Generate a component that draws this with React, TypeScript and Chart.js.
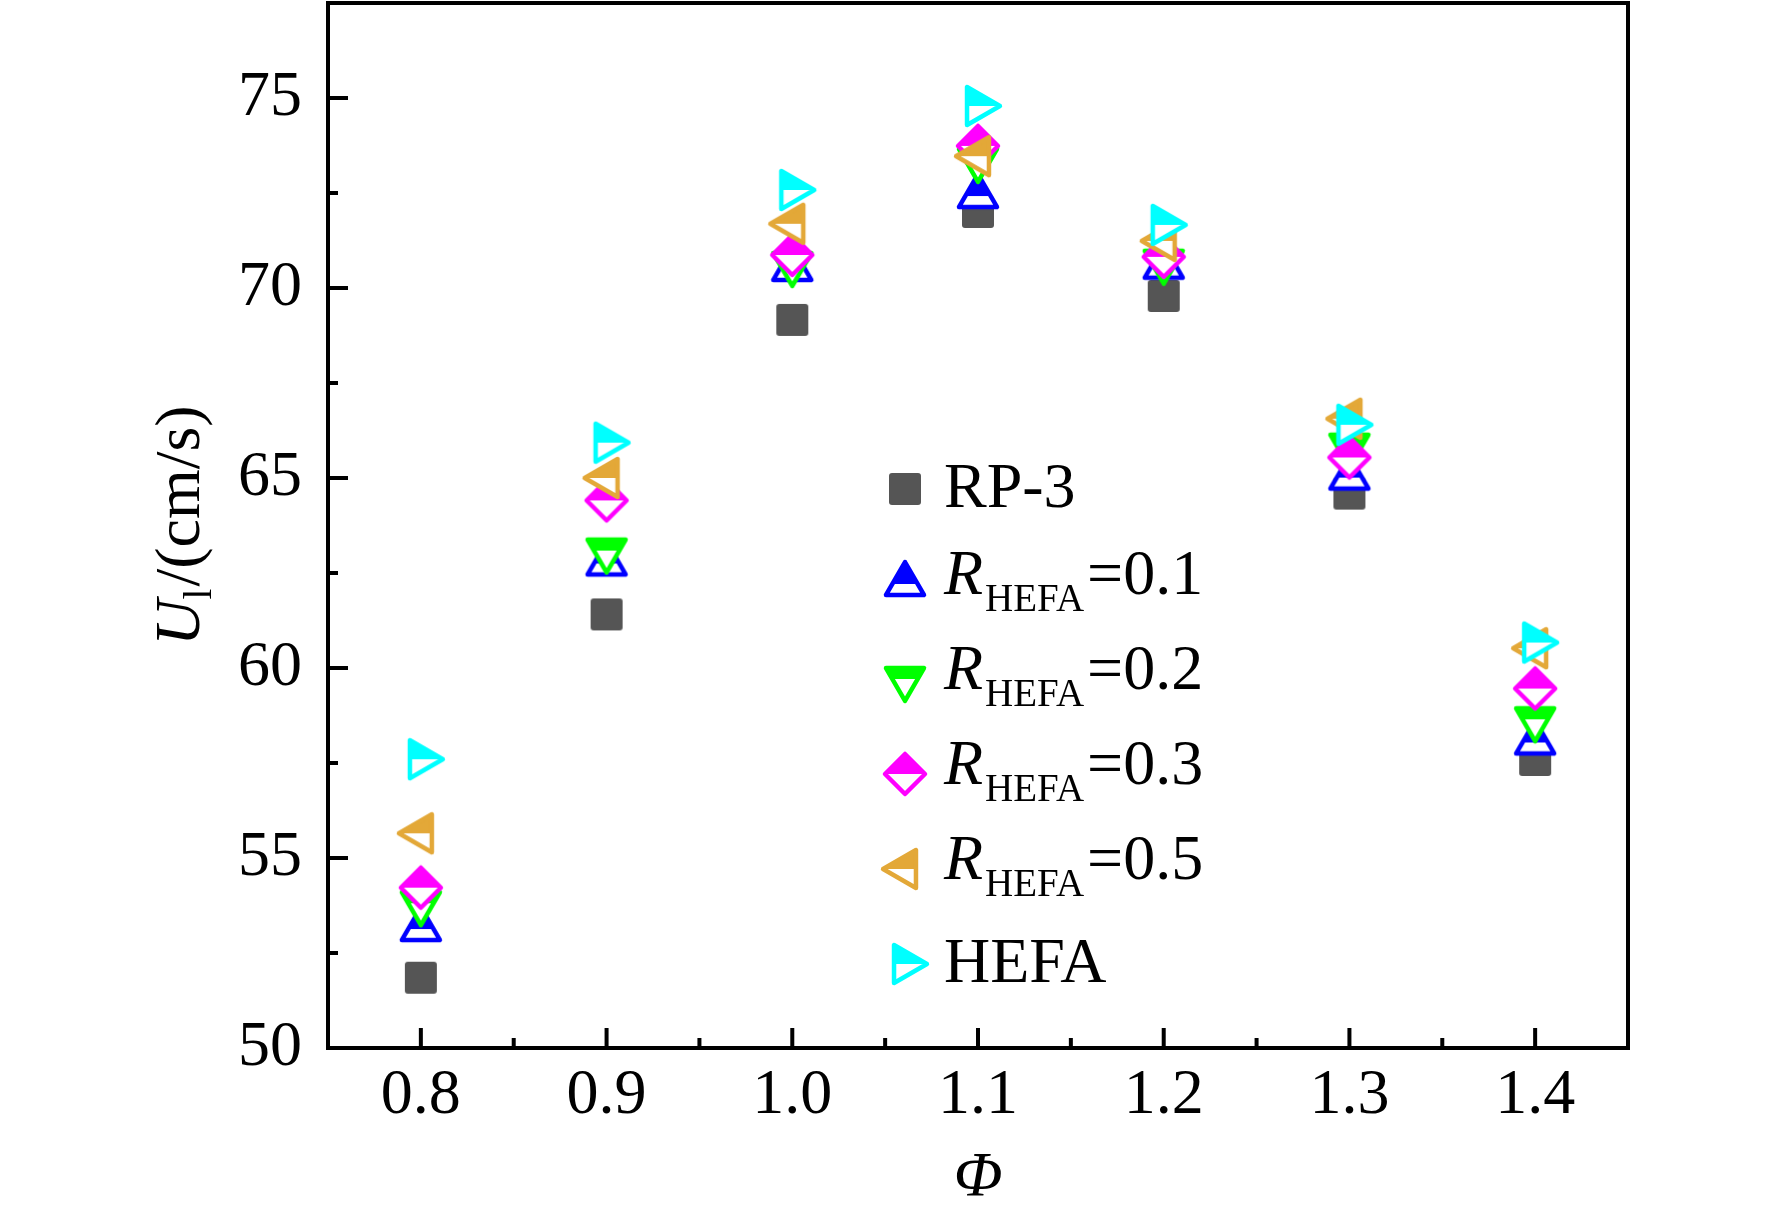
import { useEffect, useRef } from "react"
import { Chart, registerables } from "chart.js"

Chart.register(...registerables)

// equivalence ratio
const phi = [0.8, 0.9, 1.0, 1.1, 1.2, 1.3, 1.4]

// laminar burning velocity, cm/s
const rp3 = [51.85, 61.41, 69.16, 72.0, 69.79, 64.59, 57.58]
const r01 = [53.13, 62.75, 70.5, 72.42, 70.56, 65.01, 58.04]
const r02 = [53.81, 63.09, 70.63, 73.37, 70.69, 65.85, 58.65]
const r03 = [54.22, 64.41, 70.87, 73.74, 70.82, 65.54, 59.46]
const r05 = [55.65, 65.0, 71.69, 73.47, 71.24, 66.56, 60.52]
const hefa = [57.6, 65.93, 72.58, 74.79, 71.66, 66.4, 60.67]

const xMajor = [0.8, 0.9, 1.0, 1.1, 1.2, 1.3, 1.4]
const xMinor = [0.85, 0.95, 1.05, 1.15, 1.25, 1.35]
const yMajor = [50, 55, 60, 65, 70, 75]
const yMinor = [52.5, 57.5, 62.5, 67.5, 72.5]

type Shape = "square" | "up" | "down" | "diamond" | "left" | "right"

type Series = {
  name: string
  ratio?: string // shown as R_HEFA=ratio in the legend
  values: number[]
  color: string
  shape: Shape
}

const series: Series[] = [
  { name: "RP-3", values: rp3, color: "#555555", shape: "square" },
  { name: "R0.1", ratio: "0.1", values: r01, color: "#0000ff", shape: "up" },
  { name: "R0.2", ratio: "0.2", values: r02, color: "#00ff00", shape: "down" },
  { name: "R0.3", ratio: "0.3", values: r03, color: "#ff00ff", shape: "diamond" },
  { name: "R0.5", ratio: "0.5", values: r05, color: "#e3a838", shape: "left" },
  { name: "HEFA", values: hefa, color: "#00ffff", shape: "right" },
]

const SERIF = "'Liberation Serif', 'Times New Roman', serif"

// Origin-style half filled symbol: the part above the centre is solid,
// the rest white. The canvas is centred on the symbol's centroid.
function makeMarker(shape: Shape, color: string): HTMLCanvasElement {
  const cv = document.createElement("canvas")
  cv.width = 64
  cv.height = 64
  const ctx = cv.getContext("2d")!
  const c = 32
  if (shape === "square") {
    ctx.fillStyle = color
    ctx.beginPath()
    ctx.roundRect(c - 16, c - 16, 32, 32, 3)
    ctx.fill()
    return cv
  }
  const s = 38
  const h = (s * Math.sqrt(3)) / 2
  let pts: [number, number][] = []
  if (shape === "up") pts = [[c, c - (2 * h) / 3], [c + s / 2, c + h / 3], [c - s / 2, c + h / 3]]
  if (shape === "down") pts = [[c, c + (2 * h) / 3], [c + s / 2, c - h / 3], [c - s / 2, c - h / 3]]
  if (shape === "left") pts = [[c - (2 * h) / 3, c], [c + h / 3, c - s / 2], [c + h / 3, c + s / 2]]
  if (shape === "right") pts = [[c + (2 * h) / 3, c], [c - h / 3, c - s / 2], [c - h / 3, c + s / 2]]
  if (shape === "diamond") pts = [[c, c - 20], [c + 20, c], [c, c + 20], [c - 20, c]]
  const path = () => {
    ctx.beginPath()
    pts.forEach(([x, y], i) => (i ? ctx.lineTo(x, y) : ctx.moveTo(x, y)))
    ctx.closePath()
  }
  path()
  ctx.fillStyle = "#ffffff"
  ctx.fill()
  ctx.save()
  path()
  ctx.clip()
  ctx.fillStyle = color
  ctx.fillRect(0, 0, 64, c)
  ctx.restore()
  path()
  ctx.lineWidth = 4.5
  ctx.lineJoin = "round"
  ctx.strokeStyle = color
  ctx.stroke()
  return cv
}

export default function App() {
  const canvasRef = useRef<HTMLCanvasElement | null>(null)
  const chartRef = useRef<Chart | null>(null)

  useEffect(() => {
    document.body.style.margin = "0"
    if (!canvasRef.current) return
    const ctx = canvasRef.current.getContext("2d")
    if (!ctx) return
    const markers = series.map((s) => makeMarker(s.shape, s.color))

    // box, inward ticks, axis titles and the legend
    const decorations = {
      id: "decorations",
      beforeDatasetsDraw(chart: Chart) {
        const { ctx, chartArea } = chart
        const { left, right, top, bottom } = chartArea
        const x = chart.scales.x
        const y = chart.scales.y
        ctx.save()
        ctx.strokeStyle = "#000"
        ctx.lineWidth = 4
        ctx.strokeRect(left, top, right - left, bottom - top)
        ctx.beginPath()
        xMajor.forEach((v) => {
          const px = x.getPixelForValue(v)
          ctx.moveTo(px, bottom)
          ctx.lineTo(px, bottom - 20)
        })
        xMinor.forEach((v) => {
          const px = x.getPixelForValue(v)
          ctx.moveTo(px, bottom)
          ctx.lineTo(px, bottom - 10)
        })
        yMajor.forEach((v) => {
          const py = y.getPixelForValue(v)
          ctx.moveTo(left, py)
          ctx.lineTo(left + 20, py)
        })
        yMinor.forEach((v) => {
          const py = y.getPixelForValue(v)
          ctx.moveTo(left, py)
          ctx.lineTo(left + 10, py)
        })
        ctx.stroke()
        ctx.restore()
      },
      afterDraw(chart: Chart) {
        const { ctx, chartArea } = chart
        const { left, right, top, bottom } = chartArea
        ctx.save()
        ctx.fillStyle = "#000"
        ctx.textBaseline = "alphabetic"
        ctx.textAlign = "left"

        // y title: U_l/(cm/s), rotated
        const big = `64px ${SERIF}`
        const bigIt = `italic 64px ${SERIF}`
        const small = `39px ${SERIF}`
        ctx.save()
        ctx.translate(199, (top + bottom) / 2)
        ctx.rotate(-Math.PI / 2)
        ctx.font = bigIt
        const wU = ctx.measureText("U").width
        ctx.font = small
        const wl = ctx.measureText("l").width
        ctx.font = big
        const wr = ctx.measureText("/(cm/s)").width
        let cx = -(wU + wl + 2 + wr) / 2
        ctx.font = bigIt
        ctx.fillText("U", cx, 0)
        cx += wU
        ctx.font = small
        ctx.fillText("l", cx, 12)
        cx += wl + 2
        ctx.font = big
        ctx.fillText("/(cm/s)", cx, 0)
        ctx.restore()

        // x title
        ctx.font = bigIt
        ctx.textAlign = "center"
        ctx.fillText("Φ", (left + right) / 2, 1196)
        ctx.textAlign = "left"

        // legend
        const mx = left + 577
        const tx = left + 616
        series.forEach((s, i) => {
          const cy = top + 486 + i * 95
          const m = markers[i]
          ctx.drawImage(m, mx - m.width / 2, cy - m.height / 2)
          if (s.ratio) {
            let px = tx
            ctx.font = bigIt
            ctx.fillText("R", px, cy + 10)
            px += ctx.measureText("R").width + 2
            ctx.font = small
            ctx.fillText("HEFA", px, cy + 27)
            px += ctx.measureText("HEFA").width + 3
            ctx.font = big
            ctx.fillText("=" + s.ratio, px, cy + 10)
          } else {
            ctx.font = big
            ctx.fillText(s.name, tx, cy + 18)
          }
        })
        ctx.restore()
      },
    }

    chartRef.current?.destroy()
    chartRef.current = new Chart(ctx, {
      type: "scatter",
      data: {
        datasets: series.map((s, i) => ({
          label: s.name,
          data: phi.map((p, j) => ({ x: p, y: s.values[j] })),
          pointStyle: markers[i],
          pointRadius: 20,
          backgroundColor: s.color,
          borderColor: s.color,
          showLine: false,
          // later series sit on top
          order: series.length - i,
        })),
      },
      options: {
        animation: false,
        responsive: true,
        maintainAspectRatio: false,
        layout: { autoPadding: false, padding: { top: 3, right: 144, left: 0, bottom: 0 } },
        plugins: {
          legend: { display: false },
          tooltip: { enabled: false },
        },
        scales: {
          x: {
            type: "linear",
            min: 0.75,
            max: 1.45,
            afterBuildTicks: (scale) => {
              scale.ticks = xMajor.map((v) => ({ value: v }))
            },
            afterFit: (scale) => {
              scale.height = 162
              scale.paddingLeft = 0
              scale.paddingRight = 0
            },
            grid: { display: false, drawTicks: false },
            border: { display: false },
            ticks: {
              autoSkip: false,
              maxRotation: 0,
              padding: 10,
              color: "#000",
              font: { family: SERIF, size: 64 },
              callback: (v) => Number(v).toFixed(1),
            },
          },
          y: {
            type: "linear",
            min: 50,
            max: 77.5,
            afterBuildTicks: (scale) => {
              scale.ticks = yMajor.map((v) => ({ value: v }))
            },
            afterFit: (scale) => {
              // no extra room for half a label above the top tick
              scale.width = 328
              scale.paddingTop = 0
              scale.paddingBottom = 0
            },
            grid: { display: false, drawTicks: false },
            border: { display: false },
            ticks: {
              autoSkip: false,
              padding: 26,
              color: "#000",
              font: { family: SERIF, size: 64 },
              callback: (v) => String(v),
            },
          },
        },
      },
      plugins: [decorations],
    })
    return () => {
      chartRef.current?.destroy()
      chartRef.current = null
    }
  }, [])

  return (
    <div style={{ position: "relative", width: 1772, height: 1210, background: "#fff" }}>
      <canvas ref={canvasRef} />
    </div>
  )
}
